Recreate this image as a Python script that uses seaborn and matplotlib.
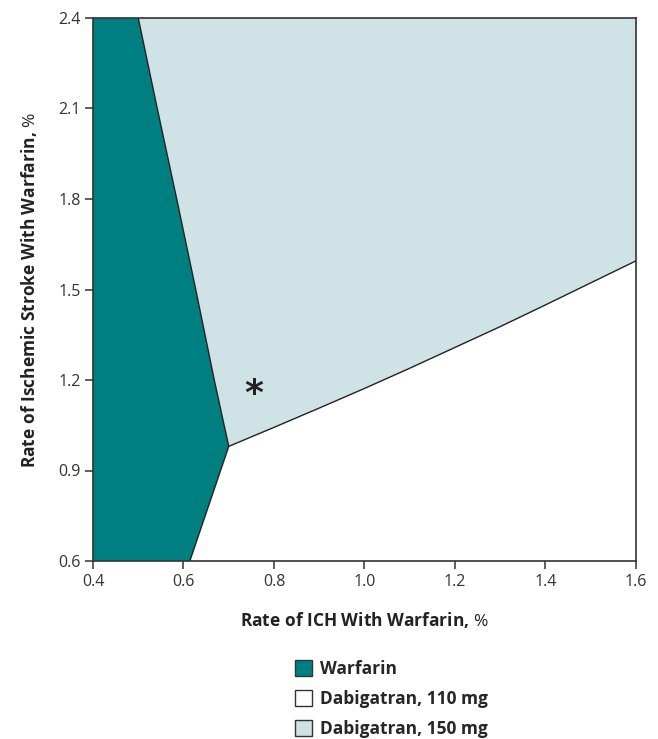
import matplotlib
matplotlib.use("Agg")
import matplotlib.pyplot as plt
from matplotlib.patches import Patch
import seaborn as sns

# boundaries (ICH rate on x, ischemic stroke rate on y)
left_x = [0.500, 0.542, 0.585, 0.627, 0.668, 0.700]
left_y = [2.40, 2.10, 1.80, 1.50, 1.20, 0.98]
bottom_x = [0.700, 0.614]
bottom_y = [0.98, 0.60]
lower_x = [0.70, 0.80, 0.90, 1.00, 1.10, 1.20, 1.30, 1.40, 1.50, 1.60]
lower_y = [0.980, 1.043, 1.107, 1.172, 1.239, 1.308, 1.377, 1.449, 1.522, 1.595]
asterisk_pt = (0.756, 1.165)

x_ticks = [0.4, 0.6, 0.8, 1.0, 1.2, 1.4, 1.6]
y_ticks = [0.6, 0.9, 1.2, 1.5, 1.8, 2.1, 2.4]
labels = ["Warfarin", "Dabigatran, 110 mg", "Dabigatran, 150 mg"]
colors = ["#007f80", "#ffffff", "#cfe3e6"]

sns.set_theme(style="ticks")
plt.rcParams["font.family"] = ["Open Sans", "DejaVu Sans"]
plt.rcParams["mathtext.fontset"] = "custom"
plt.rcParams["mathtext.rm"] = "Open Sans"
plt.rcParams["mathtext.it"] = "Open Sans:italic"

fig = plt.figure(figsize=(6.58, 7.39), dpi=100)
ax = fig.add_axes([93 / 658, 1 - 561 / 739, 543 / 658, 543 / 739])

x0, x1 = x_ticks[0], x_ticks[-1]
y0, y1 = y_ticks[0], y_ticks[-1]

# warfarin region
wx = [x0] + left_x + bottom_x[1:] + [x0]
wy = [y1] + left_y + bottom_y[1:] + [y0]
ax.fill(wx, wy, facecolor=colors[0], edgecolor="none", zorder=1)

# dabigatran 150 mg region
dx = left_x + lower_x[1:] + [x1]
dy = left_y + lower_y[1:] + [y1]
ax.fill(dx, dy, facecolor=colors[2], edgecolor="none", zorder=1)

# boundary lines
for bx, by in [(left_x, left_y), (bottom_x, bottom_y), (lower_x, lower_y)]:
    sns.lineplot(x=bx, y=by, sort=False, color="#222222", lw=1.0, ax=ax,
                 zorder=2, estimator=None)

ax.text(asterisk_pt[0], asterisk_pt[1], "*", fontsize=26, fontweight="bold",
        color="#222222", ha="center", va="center_baseline", family="DejaVu Sans")

ax.set_xlim(x0, x1)
ax.set_ylim(y0, y1)
ax.set_xticks(x_ticks)
ax.set_yticks(y_ticks)
ax.set_xticklabels([f"{v:.1f}" for v in x_ticks])
ax.set_yticklabels([f"{v:.1f}" for v in y_ticks])
ax.tick_params(axis="both", direction="out", length=6, width=1.1,
               color="#333333", labelsize=11.5, labelcolor="#333333", pad=3)
for sp in ax.spines.values():
    sp.set_visible(True)
    sp.set_color("#333333")
    sp.set_linewidth(1.2)

ax.set_xlabel(r"Rate of ICH With Warfarin, $\mathit{\%}$", fontsize=12.5,
              fontweight="bold", color="#222222", labelpad=15)
ax.set_ylabel(r"Rate of Ischemic Stroke With Warfarin, $\mathit{\%}$", fontsize=12.5,
              fontweight="bold", color="#222222", labelpad=14)

handles = [Patch(facecolor=c, edgecolor="#333333", linewidth=1.0) for c in colors]
fig.legend(handles, labels, loc="upper left", bbox_to_anchor=(286 / 658, 1 - 651 / 739),
           frameon=False, handlelength=1.0, handleheight=1.0,
           handletextpad=0.45, labelspacing=0.7, borderpad=0,
           prop={"weight": "bold", "size": 12.5})

fig.savefig("out.png", dpi=100)
